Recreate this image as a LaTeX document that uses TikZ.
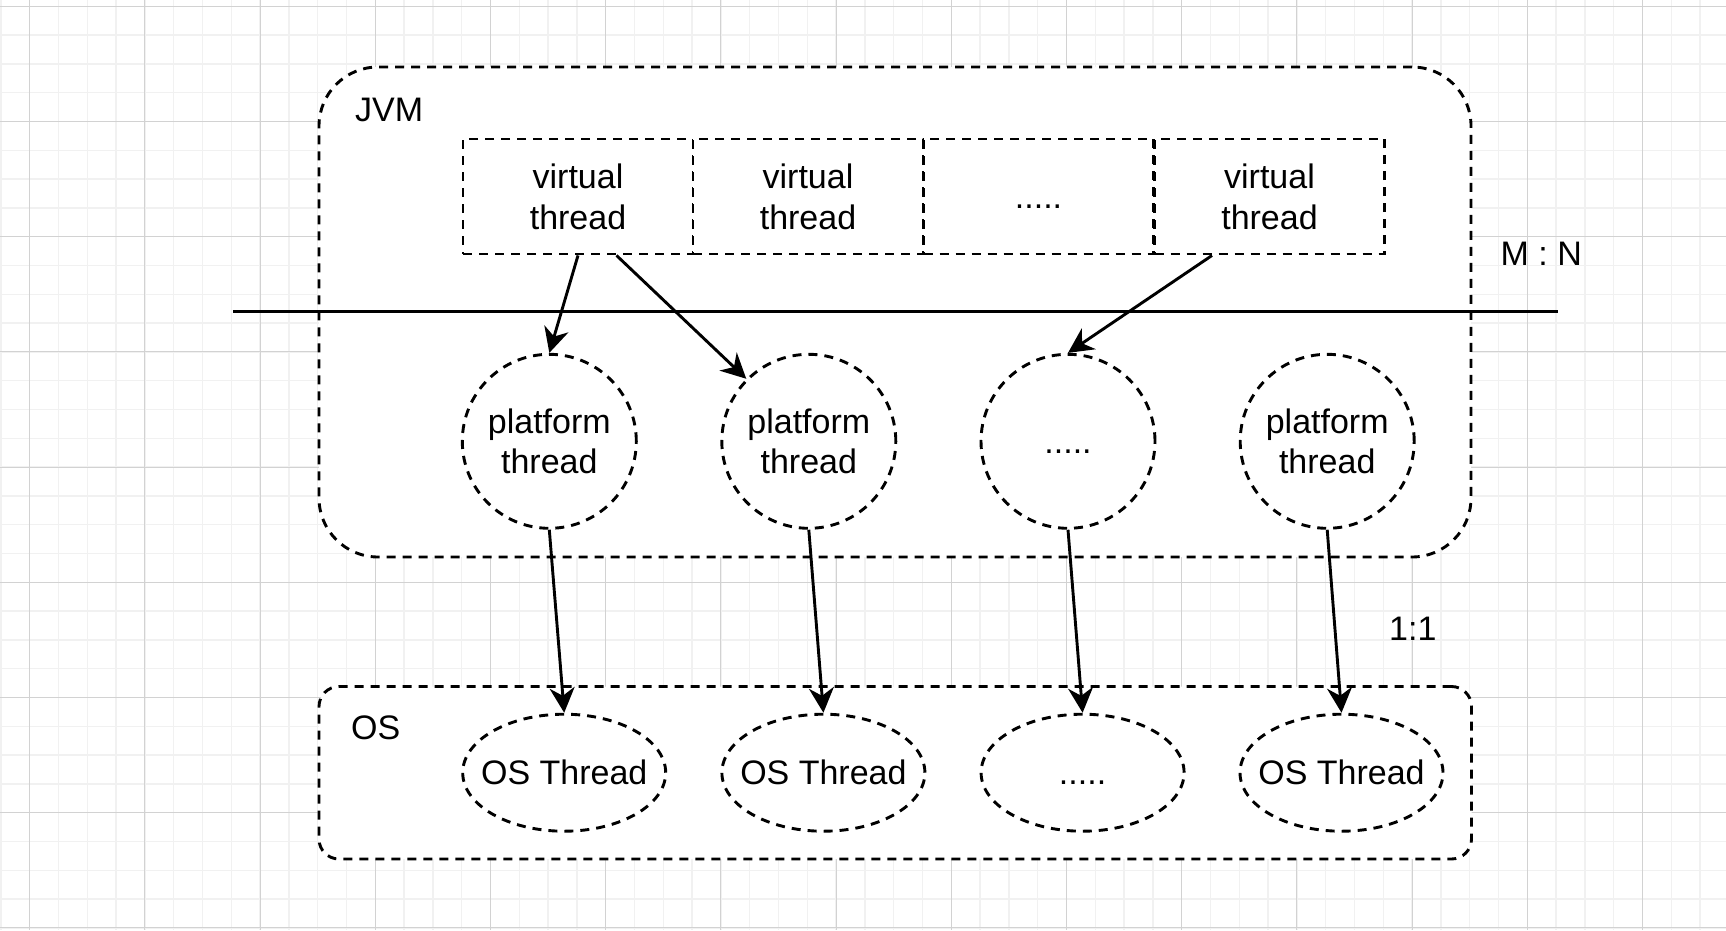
\documentclass[tikz,border=0pt]{standalone}
\usepackage{fontspec}
\setmainfont{Liberation Sans}
\usetikzlibrary{arrows.meta,calc,shapes.geometric}
\definecolor{gridminor}{RGB}{241,241,241}
\definecolor{gridmajor}{RGB}{210,210,210}
\newcommand{\lbl}{\fontsize{34}{40.8}\selectfont}
\newcommand{\zw}[1]{\makebox[0pt][c]{#1}}
\tikzset{
  dsh/.style={draw=black, line width=2.9pt, dash pattern=on 9pt off 7pt},
  vbox/.style={dsh, fill=white, rectangle, minimum width=230pt, minimum height=115pt, inner sep=0pt, align=center, font=\lbl},
  pcirc/.style={dsh, circle, fill=white, minimum size=174pt, inner sep=0pt, align=center, font=\lbl},
  oell/.style={dsh, ellipse, fill=white, minimum width=203pt, minimum height=117pt, inner sep=0pt, align=center, font=\lbl},
  group/.style={dsh, fill=white, rectangle, inner sep=0pt},
  conn/.style={draw=black, line width=2.9pt, -{Stealth[length=25pt,width=25pt,inset=8pt]}},
  sep/.style={draw=black, line width=2.9pt},
  lbltxt/.style={font=\lbl, inner sep=0pt},
}
\begin{document}
\begin{tikzpicture}[x=1pt,y=-1pt]
\useasboundingbox (0,0) rectangle (1726,930);
\fill[white] (0,0) rectangle (1726,930);
% grid
\foreach \i in {0,...,60} {
  \pgfmathsetmacro{\xx}{0.9+28.8*\i}
  \draw[gridminor, line width=1.3pt] (\xx,0) -- (\xx,930);
}
\foreach \i in {0,...,32} {
  \pgfmathsetmacro{\yy}{6.3+28.8*\i}
  \draw[gridminor, line width=1.3pt] (0,\yy) -- (1726,\yy);
}
\foreach \i in {0,...,14} {
  \pgfmathsetmacro{\xx}{29.7+115.2*\i}
  \draw[gridmajor, line width=1.1pt] (\xx,0) -- (\xx,930);
}
\foreach \i in {0,...,8} {
  \pgfmathsetmacro{\yy}{6.3+115.2*\i}
  \draw[gridmajor, line width=1.1pt] (0,\yy) -- (1726,\yy);
}
% group boxes
\node[group, rounded corners=59pt, minimum width=1152pt, minimum height=490pt] (jvm) at (895,312) {};
\node[group, rounded corners=20pt, minimum width=1152.5pt, minimum height=172.5pt] (os) at (895.25,772.75) {};
% virtual threads
\node[vbox] (v1) at (578,196.5) {virtual\\thread};
\node[vbox] (v2) at (808,196.5) {virtual\\thread};
\node[vbox] (v3) at (1038.5,196.5) {\vphantom{T}.....};
\node[vbox] (v4) at (1269.5,196.5) {virtual\\thread};
% platform threads
\node[pcirc] (p1) at (549.3,441.3) {platform\\thread};
\node[pcirc] (p2) at (808.8,441.3) {platform\\thread};
\node[pcirc] (p3) at (1068,441.3) {\vphantom{T}.....};
\node[pcirc] (p4) at (1327.2,441.3) {platform\\thread};
% OS threads
\node[oell] (o1) at (564.2,772.7) {\zw{OS Thread}};
\node[oell] (o2) at (823.4,772.7) {\zw{OS Thread}};
\node[oell] (o3) at (1082.6,772.7) {\zw{\vphantom{T}.....}};
\node[oell] (o4) at (1341.5,772.7) {\zw{OS Thread}};
% separator line
\coordinate (hlL) at (233,311.5);
\coordinate (hlR) at (1557.5,311.5);
\draw[sep] (hlL) -- (hlR);
% connectors
\draw[conn] (v1.south) -- (p1.north);
\draw[conn] ($(v1.south)+(38.5,0)$) -- (p2.north west);
\draw[conn] ($(v4.south)+(-57.5,0)$) -- (p3.north);
\draw[conn] (p1.south) -- (o1.north);
\draw[conn] (p2.south) -- (o2.north);
\draw[conn] (p3.south) -- (o3.north);
\draw[conn] (p4.south) -- (o4.north);
% labels
\node[lbltxt, anchor=base west] (ljvm) at (355,121) {JVM};
\node[lbltxt, anchor=base west] (los) at (351,739.3) {OS};
\node[lbltxt, anchor=base west] (lmn) at (1500.5,265.7) {M : N};
\node[lbltxt, anchor=base west] (l11) at (1389,640) {1:1};
\end{tikzpicture}
\end{document}
